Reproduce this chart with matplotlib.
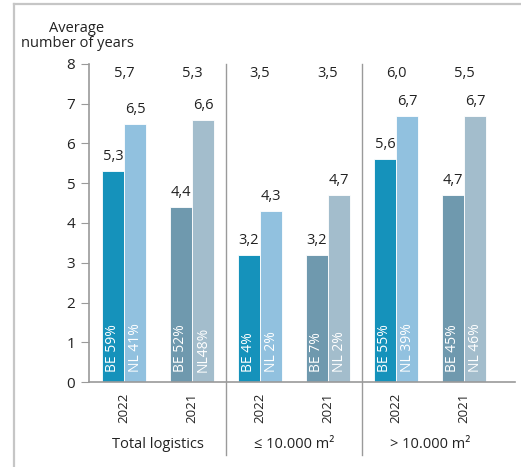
import numpy as np
import matplotlib.pyplot as plt
import matplotlib.transforms as mtransforms
from matplotlib.patches import Rectangle

plt.rcParams['font.family'] = ['Open Sans', 'DejaVu Sans']

# -------------------- DATA --------------------
groups = ["Total logistics", "≤ 10.000 m²", "> 10.000 m²"]
years = ["2022", "2021", "2022", "2021", "2022", "2021"]
be_values = [5.3, 4.4, 3.2, 3.2, 5.6, 4.7]
nl_values = [6.5, 6.6, 4.3, 4.7, 6.7, 6.7]
totals = ["5,7", "5,3", "3,5", "3,5", "6,0", "5,5"]
be_share = ["BE 59%", "BE 52%", "BE 4%", "BE 7%", "BE 55%", "BE 45%"]
nl_share = ["NL 41%", "NL48%", "NL 2%", "NL 2%", "NL 39%", "NL 46%"]

# colours per year: 2022 brighter, 2021 greyer
BE_COL = {"2022": "#1592bb", "2021": "#6f99ae"}
NL_COL = {"2022": "#91c1df", "2021": "#a3bdcc"}
TXT = "#222222"
AXC = "#9a9a9a"

fig = plt.figure(figsize=(5.21, 4.67), dpi=100)

# light frame around the chart (open to the right and bottom)
fig.add_artist(plt.Line2D([14 / 521, 14 / 521], [0, 1 - 4 / 467],
                          transform=fig.transFigure, color="#c6c6c6", lw=1.6))
fig.add_artist(plt.Line2D([14 / 521, 1], [1 - 4 / 467, 1 - 4 / 467],
                          transform=fig.transFigure, color="#c6c6c6", lw=1.6))

ax = fig.add_axes([89 / 521, 1 - 382 / 467, (515 - 89) / 521, (382 - 64) / 467])
x = np.arange(len(years))
w = 0.325

for i in x:
    ax.bar(i - w / 2, be_values[i], w, color=BE_COL[years[i]], edgecolor="white", linewidth=0.6)
    ax.bar(i + w / 2, nl_values[i], w, color=NL_COL[years[i]], edgecolor="white", linewidth=0.6)
    ax.annotate(f"{be_values[i]:.1f}".replace(".", ","), (i - w / 2, be_values[i]),
                xytext=(0, 5), textcoords="offset points", ha="center", va="bottom",
                fontsize=10.5, color=TXT)
    ax.annotate(f"{nl_values[i]:.1f}".replace(".", ","), (i + w / 2, nl_values[i]),
                xytext=(0, 5), textcoords="offset points", ha="center", va="bottom",
                fontsize=10.5, color=TXT)
    ax.text(i, 7.77, totals[i], ha="center", va="center", fontsize=10.5, color=TXT)
    ax.annotate(be_share[i], (i - w / 2, 0), xytext=(0, 7), textcoords="offset points",
                rotation=90, ha="center", va="bottom", fontsize=10, color="white")
    ax.annotate(nl_share[i], (i + w / 2, 0), xytext=(0, 7), textcoords="offset points",
                rotation=90, ha="center", va="bottom", fontsize=10, color="white")

ax.set_xlim(-0.515, 5.75)
ax.set_ylim(0, 8)
ax.set_yticks(range(9))
ax.tick_params(axis="y", length=6, width=0.8, color=AXC, labelsize=11, labelcolor=TXT, pad=4)
ax.set_xticks(x)
ax.set_xticklabels(years, rotation=90, fontsize=9.5, color=TXT)
ax.tick_params(axis="x", length=0, pad=8)

for s in ["top", "right"]:
    ax.spines[s].set_visible(False)
for s in ["left", "bottom"]:
    ax.spines[s].set_color(AXC)
    ax.spines[s].set_linewidth(1.2)

# group separators, running from the top down through the labels
trans = mtransforms.blended_transform_factory(ax.transData, ax.transAxes)
for sep in [1.5, 3.5]:
    ax.plot([sep, sep], [1.0, -0.23], transform=trans, color=AXC, lw=1.0, clip_on=False)

# group names under the year labels
for g, name in enumerate(groups):
    ax.text(2 * g + 0.5, -0.195, name, transform=trans, ha="center", va="center",
            fontsize=10.5, color=TXT)

fig.text(77 / 521, 1 - 36 / 467, "Average\nnumber of years", ha="center", va="center",
         fontsize=10.5, color=TXT, linespacing=1.0)

fig.savefig("out.png", dpi=100, facecolor="white")
